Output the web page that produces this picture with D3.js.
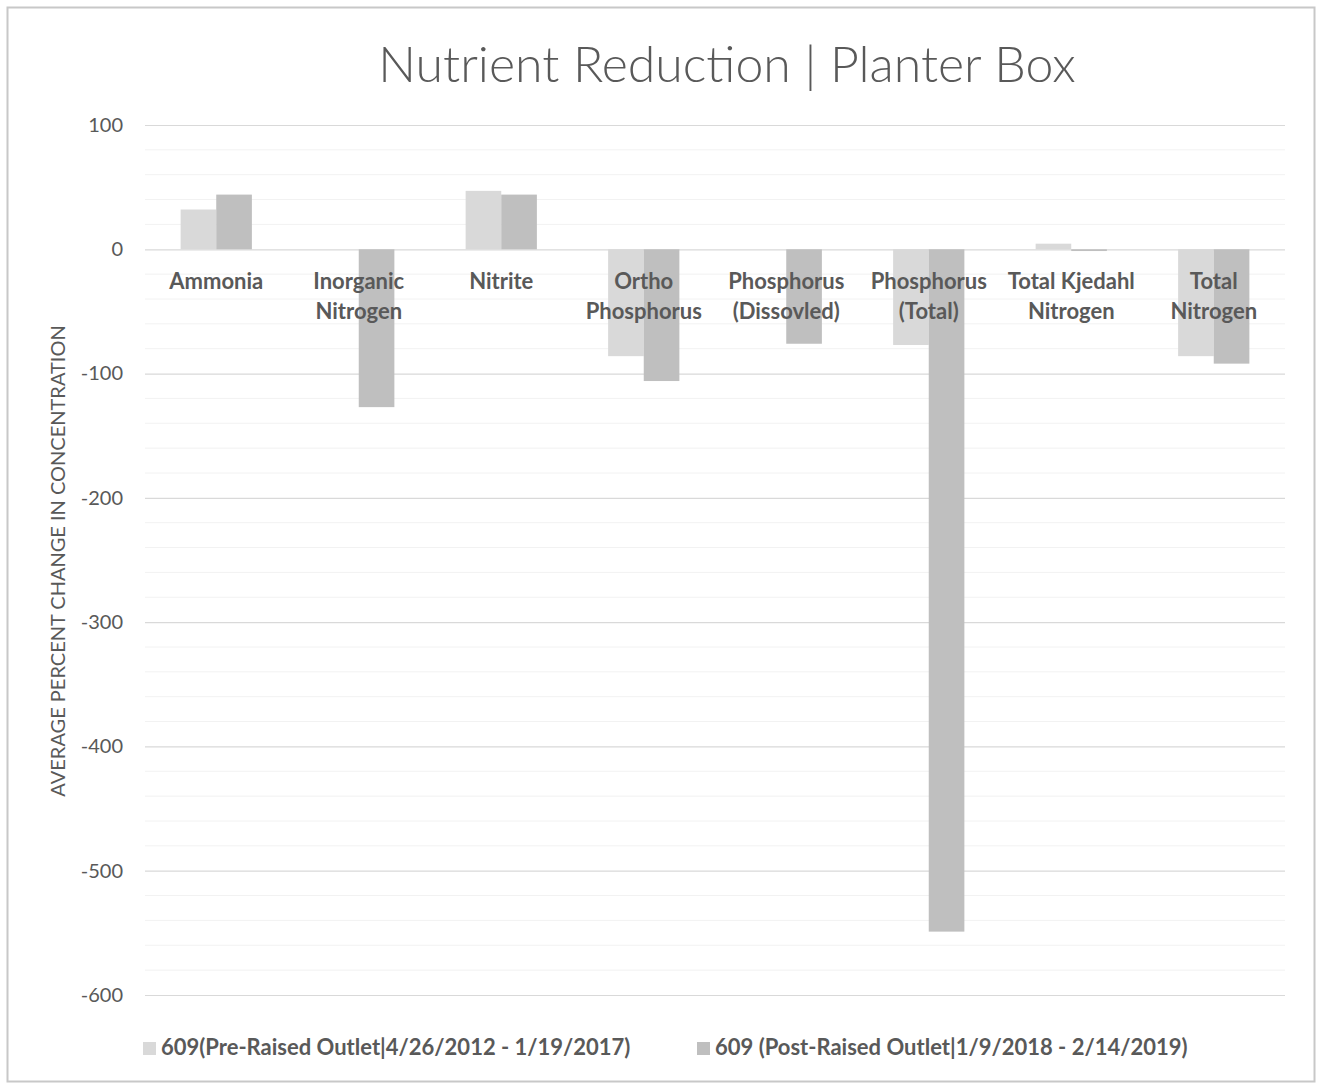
<!DOCTYPE html>
<html>
<head>
<meta charset="utf-8">
<script src="https://cdn.jsdelivr.net/npm/d3@7"></script>
<style>
  html, body { margin: 0; padding: 0; background: #fff; }
  svg { display: block; }
</style>
</head>
<body>
<svg id="chart" width="1317" height="1084"></svg>
<script>
// Nutrient categories, in display order (each label split into its lines)
const categories = [
  ["Ammonia"],
  ["Inorganic", "Nitrogen"],
  ["Nitrite"],
  ["Ortho", "Phosphorus"],
  ["Phosphorus", "(Dissovled)"],
  ["Phosphorus", "(Total)"],
  ["Total Kjedahl", "Nitrogen"],
  ["Total", "Nitrogen"]
];

// Average percent change in concentration for each series
const preRaised  = [32, null, 47, -86, null, -77, 4.5, -86];
const postRaised = [44, -127, 44, -106, -76, -549, -1.4, -92];

const seriesNames = [
  "609(Pre-Raised Outlet|4/26/2012 - 1/19/2017)",
  "609 (Post-Raised Outlet|1/9/2018 - 2/14/2019)"
];
const seriesColors = ["#d9d9d9", "#bfbfbf"];

const yTicks = [100, 0, -100, -200, -300, -400, -500, -600];

const svg = d3.select("#chart");
const W = 1317, H = 1084;
const font = "Lato, 'Open Sans', sans-serif";
const textColor = "#595959";

// Outer chart frame
svg.append("rect")
  .attr("x", 7.5).attr("y", 7.5)
  .attr("width", W - 10).attr("height", H - 10)
  .attr("fill", "#fff")
  .attr("stroke", "#c8c8c8").attr("stroke-width", 2);

const plot = { left: 145, right: 1285, top: 125, bottom: 995 };

const y = d3.scaleLinear().domain([-600, 100]).range([plot.bottom, plot.top]);

const catIdx = d3.range(categories.length);
const x0 = d3.scaleBand()
  .domain(catIdx)
  .range([plot.left, plot.right])
  .paddingInner(0.5)
  .paddingOuter(0.25);
const x1 = d3.scaleBand().domain([0, 1]).range([0, x0.bandwidth()]);

// Minor gridlines every 20
const minor = d3.range(-600, 101, 20).filter(v => v % 100 !== 0);
svg.append("g").selectAll("line").data(minor).join("line")
  .attr("x1", plot.left).attr("x2", plot.right)
  .attr("y1", d => y(d)).attr("y2", d => y(d))
  .attr("stroke", "#f2f2f2").attr("stroke-width", 1);

// Major gridlines with tick labels (plain hyphen for negatives)
const yAxis = d3.axisLeft(y)
  .tickValues(yTicks)
  .tickFormat(d => String(d))
  .tickSize(-(plot.right - plot.left))
  .tickPadding(22);
const gy = svg.append("g").attr("transform", `translate(${plot.left},0)`).call(yAxis);
gy.select(".domain").remove();
gy.selectAll(".tick line").attr("stroke", "#d9d9d9").attr("stroke-width", 1.2);
gy.selectAll(".tick text")
  .attr("fill", textColor)
  .style("font-family", font)
  .style("font-size", "20px");

// Bars
const series = [preRaised, postRaised];
series.forEach((vals, s) => {
  svg.append("g").selectAll("rect")
    .data(catIdx.filter(i => vals[i] !== null))
    .join("rect")
    .attr("x", i => x0(i) + x1(s))
    .attr("width", x1.bandwidth())
    .attr("y", i => y(Math.max(0, vals[i])))
    .attr("height", i => Math.abs(y(vals[i]) - y(0)))
    .attr("fill", seriesColors[s]);
});

// Category labels below the zero line
const labels = svg.append("g");
categories.forEach((lines, i) => {
  const cx = x0(i) + x0.bandwidth() / 2;
  const t = labels.append("text")
    .attr("x", cx)
    .attr("y", 289)
    .attr("text-anchor", "middle")
    .attr("fill", textColor)
    .style("font-family", font)
    .style("font-weight", "bold")
    .style("font-size", "22px");
  lines.forEach((ln, k) => {
    t.append("tspan")
      .attr("x", cx)
      .attr("dy", k === 0 ? 0 : 30)
      .text(ln);
  });
});

// Title
svg.append("text")
  .attr("x", 727).attr("y", 82)
  .attr("text-anchor", "middle")
  .attr("fill", textColor)
  .style("font-family", font)
  .style("font-weight", 300)
  .style("font-size", "50px")
  .text("Nutrient Reduction | Planter Box");

// Y-axis title
svg.append("text")
  .attr("transform", "translate(65,561) rotate(-90)")
  .attr("text-anchor", "middle")
  .attr("fill", textColor)
  .style("font-family", font)
  .style("font-size", "20px")
  .text("AVERAGE PERCENT CHANGE IN CONCENTRATION");

// Legend
const legendX = [143, 697];
seriesNames.forEach((name, s) => {
  const g = svg.append("g").attr("transform", `translate(${legendX[s]},1042)`);
  g.append("rect").attr("width", 13).attr("height", 13).attr("fill", seriesColors[s]);
  g.append("text")
    .attr("x", 18).attr("y", 13)
    .attr("fill", textColor)
    .style("font-family", font)
    .style("font-weight", "bold")
    .style("font-size", "22px")
    .text(name);
});
</script>
</body>
</html>
